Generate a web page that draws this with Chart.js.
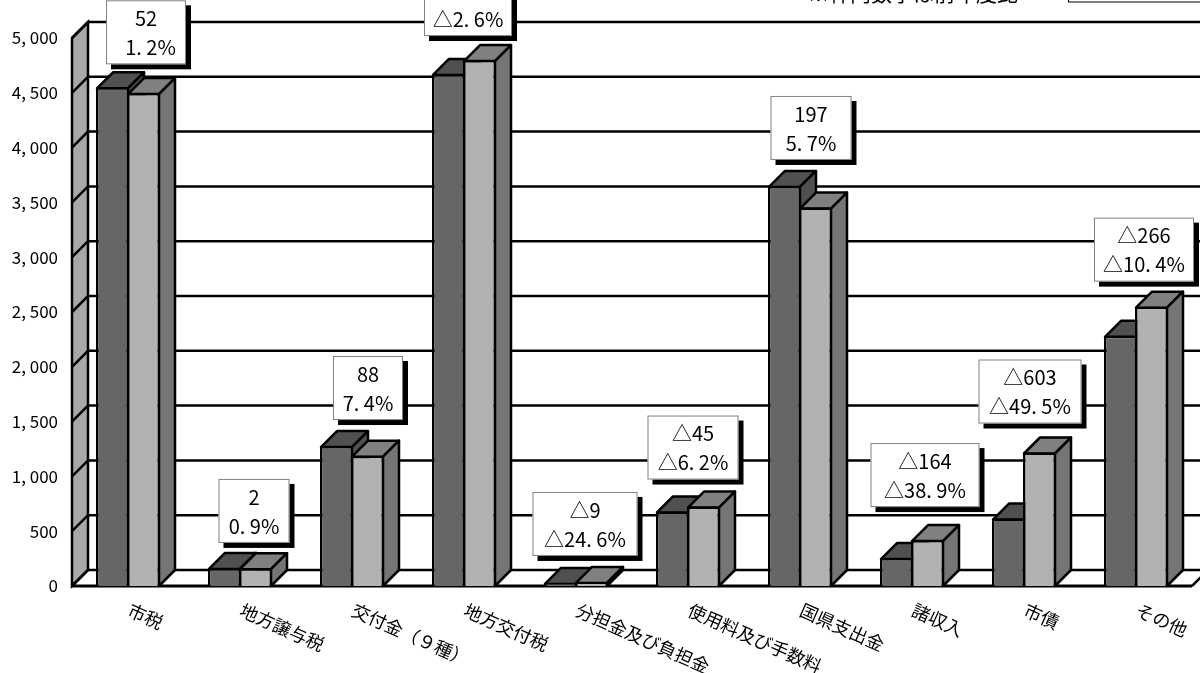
<!DOCTYPE html>
<html>
<head>
<meta charset="utf-8">
<title>歳入比較</title>
<script src="https://cdn.jsdelivr.net/npm/chart.js@4/dist/chart.umd.js"></script>
<style>
  html, body { margin: 0; padding: 0; background: #fff; }
  canvas { display: block; }
</style>
</head>
<body>
<canvas id="revenueChart" width="1200" height="673"></canvas>
<script>
const categories = ['市税', '地方譲与税', '交付金（９種）', '地方交付税', '分担金及び負担金', '使用料及び手数料', '国県支出金', '諸収入', '市債', 'その他'];
const currentYear = [4550, 165, 1277, 4672, 28, 680, 3650, 255, 615, 2283];
const previousYear = [4498, 163, 1189, 4799, 37, 725, 3453, 419, 1218, 2549];
const yTicks = [0, 500, 1000, 1500, 2000, 2500, 3000, 3500, 4000, 4500, 5000];
const diffLabels = ['52', '2', '88', '△127', '△9', '△45', '197', '△164', '△603', '△266'];
const rateLabels = ['  1. 2%', '0. 9%', '7. 4%', '△2. 6%', '△24. 6%', '△6. 2%', '5. 7%', '△38. 9%', '△49. 5%', '△10. 4%'];

// callout placement, relative to the category centre and the taller bar
const boxShiftX = [18, 14, 16, 4, 9, 5, 11, 13, 6, 8];
const boxGap = [23, 25, 26, 24, 26, 27, 26, 33, 29, 25];
const boxWidth = [80, 71, 70, 88, 105, 91, 81, 109, 103, 100];

const DEPTH = 16;
const FONT = "'Noto Sans CJK JP', sans-serif";

const poly = (ctx, pts, fill) => {
    ctx.beginPath();
    pts.forEach((p, i) => i ? ctx.lineTo(p[0], p[1]) : ctx.moveTo(p[0], p[1]));
    ctx.closePath();
    ctx.fillStyle = fill;
    ctx.fill();
    ctx.stroke();
};

// back wall, left wall and floor, then the top and side faces of the bars
const wallPlugin = {
    id: 'walls',
    beforeDatasetsDraw(chart) {
        const { ctx, chartArea, scales } = chart;
        const y = scales.y;
        const left = chartArea.left, right = chartArea.right;
        ctx.save();
        ctx.strokeStyle = '#000';
        ctx.lineWidth = 2.5;
        poly(ctx, [
            [left, y.getPixelForValue(0)],
            [left, y.getPixelForValue(5000)],
            [left + DEPTH, y.getPixelForValue(5000) - DEPTH],
            [left + DEPTH, y.getPixelForValue(0) - DEPTH]
        ], '#a8a8a8');
        yTicks.forEach(v => {
            const py = y.getPixelForValue(v);
            ctx.beginPath();
            ctx.moveTo(left, py);
            ctx.lineTo(left + DEPTH, py - DEPTH);
            ctx.lineTo(right + DEPTH, py - DEPTH);
            ctx.stroke();
        });
        const y0 = y.getPixelForValue(0);
        ctx.beginPath();
        ctx.moveTo(right, y0);
        ctx.lineTo(right + DEPTH, y0 - DEPTH);
        ctx.stroke();
        ctx.lineWidth = 3;
        ctx.beginPath();
        ctx.moveTo(left, y0);
        ctx.lineTo(right, y0);
        ctx.stroke();

        ctx.lineWidth = 2.5;
        ctx.lineJoin = 'round';
        chart.data.datasets.forEach((ds, index) => {
            chart.getDatasetMeta(index).data.forEach(bar => {
                const l = bar.x - bar.width / 2 + 1, r = bar.x + bar.width / 2 - 1;
                const t = bar.y + 1, b = bar.base;
                poly(ctx, [[l, t], [l + DEPTH, t - DEPTH], [r + DEPTH, t - DEPTH], [r, t]], ds.topColor);
                poly(ctx, [[r, t], [r + DEPTH, t - DEPTH], [r + DEPTH, b - DEPTH], [r, b]], ds.sideColor);
            });
        });
        ctx.restore();
    }
};

// rotated category names and the callout boxes
const labelPlugin = {
    id: 'labels',
    afterDatasetsDraw(chart) {
        const { ctx, scales } = chart;
        const x = scales.x;
        const dark = chart.getDatasetMeta(0).data;
        const light = chart.getDatasetMeta(1).data;
        ctx.save();
        ctx.fillStyle = '#000';

        categories.forEach((name, i) => {
            ctx.save();
            ctx.translate(x.getPixelForValue(i) + 1, 609);
            ctx.rotate(24 * Math.PI / 180);
            ctx.font = '18px ' + FONT;
            ctx.textAlign = 'left';
            ctx.textBaseline = 'middle';
            ctx.fillText(name, 0, 0);
            ctx.restore();
        });

        categories.forEach((name, i) => {
            const barTop = Math.min(dark[i].y, light[i].y);
            const w = boxWidth[i], h = 64;
            const bx = x.getPixelForValue(i) + boxShiftX[i] - w / 2;
            const by = barTop - boxGap[i] - h;
            ctx.fillStyle = '#000';
            ctx.fillRect(bx + 5, by + 5, w, h);
            ctx.fillStyle = '#fff';
            ctx.fillRect(bx, by, w, h);
            ctx.strokeStyle = '#808080';
            ctx.lineWidth = 1;
            ctx.strokeRect(bx + 0.5, by + 0.5, w - 1, h - 1);
            ctx.fillStyle = '#000';
            ctx.font = '20px ' + FONT;
            ctx.textAlign = 'center';
            ctx.textBaseline = 'middle';
            ctx.fillText(diffLabels[i], bx + w / 2, by + 18);
            ctx.fillText(rateLabels[i], bx + w / 2, by + 47);
        });

        // header note, cut off by the top of the picture in the source
        ctx.font = '21px ' + FONT;
        ctx.textAlign = 'left';
        ctx.textBaseline = 'alphabetic';
        ctx.fillText('※枠内数字は前年度比', 808, 1);
        ctx.strokeStyle = '#000';
        ctx.lineWidth = 1;
        ctx.strokeRect(1068.5, -30, 160, 32);
        ctx.restore();
    }
};

new Chart(document.getElementById('revenueChart').getContext('2d'), {
    type: 'bar',
    data: {
        labels: categories,
        datasets: [
            {
                label: '今年度', data: currentYear,
                backgroundColor: '#666666', borderColor: '#000', borderWidth: 2.5,
                topColor: '#505050', sideColor: '#505050'
            },
            {
                label: '前年度', data: previousYear,
                backgroundColor: '#b2b2b2', borderColor: '#000', borderWidth: 2.5,
                topColor: '#808080', sideColor: '#757575'
            }
        ]
    },
    options: {
        responsive: false,
        animation: false,
        layout: { padding: { top: 38, right: 8, bottom: 87, left: 0 } },
        categoryPercentage: 62 / 112,
        barPercentage: 33 / 31,
        plugins: { legend: { display: false }, tooltip: { enabled: false } },
        scales: {
            x: {
                afterFit: scale => { scale.height = 0; },
                grid: { display: false },
                border: { display: false },
                ticks: { display: false }
            },
            y: {
                min: 0,
                max: 5000,
                afterFit: scale => { scale.width = 72; },
                afterBuildTicks: scale => { scale.ticks = yTicks.map(v => ({ value: v })); },
                grid: { display: false },
                border: { display: false },
                ticks: {
                    padding: 6,
                    color: '#000',
                    font: { family: FONT, size: 17 },
                    callback: v => String(v).replace(/(\d)(\d{3})$/, '$1, $2')
                }
            }
        }
    },
    plugins: [wallPlugin, labelPlugin]
});
</script>
</body>
</html>
